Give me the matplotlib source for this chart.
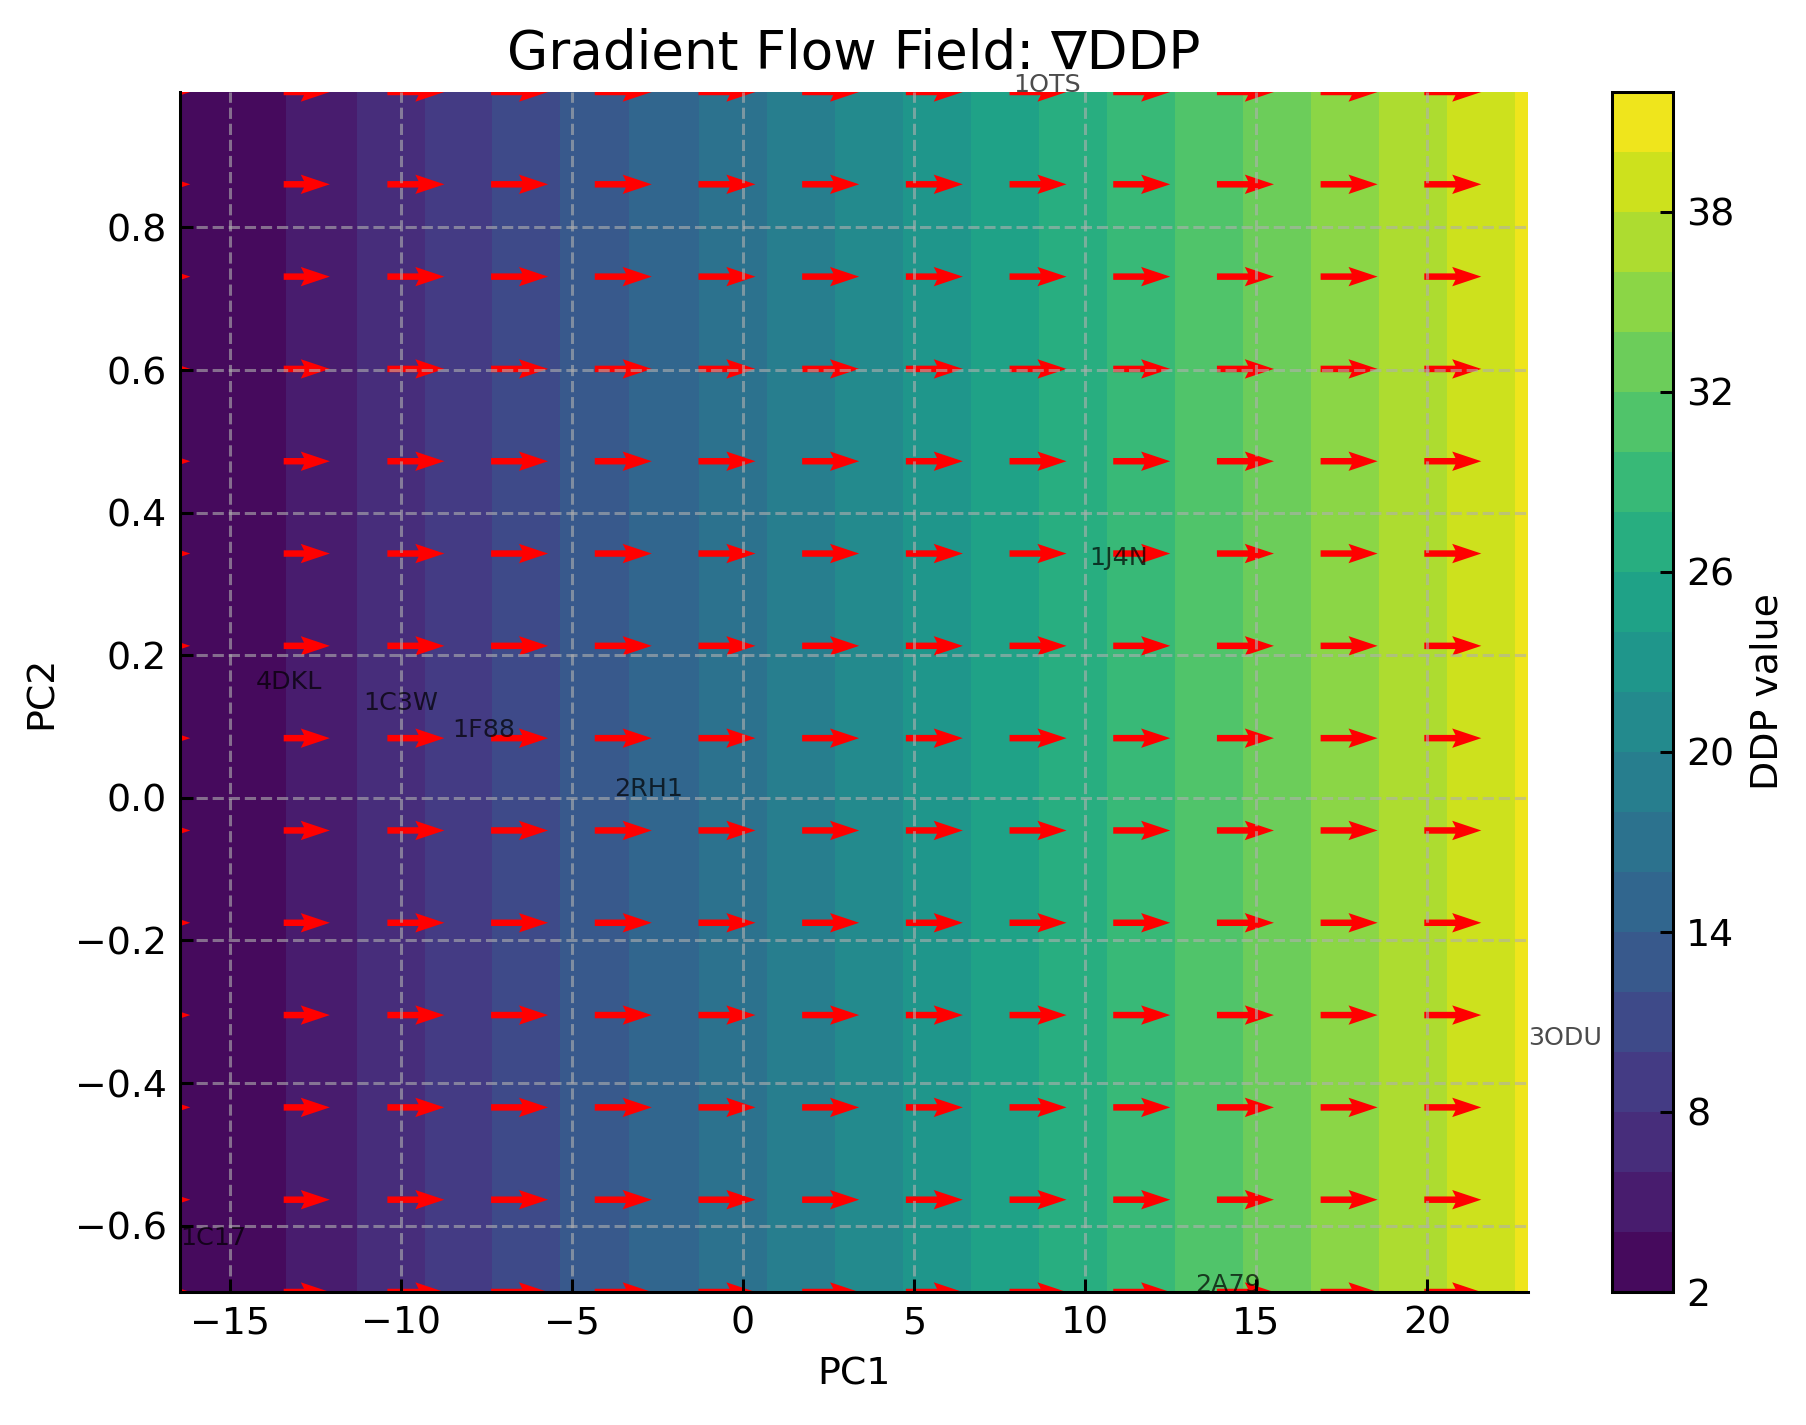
import matplotlib
matplotlib.use('Agg')
import matplotlib.pyplot as plt
import numpy as np

# structures placed in PC space (labels only)
structures = ['4DKL', '1C3W', '1F88', '2RH1', '1J4N', '1OTS', '3ODU', '2A79', '1C17']
pc1 = [-14.25, -11.09, -8.50, -3.76, 10.13, 7.91, 22.95, 13.23, -16.46]
pc2 = [0.153, 0.123, 0.086, 0.003, 0.327, 0.990, -0.346, -0.693, -0.627]

# DDP value along PC1 at the 14 grid columns (field does not vary with PC2)
ddp_profile = [2.2, 3.93, 6.86, 9.97, 13.03, 15.99, 19.04, 22.08,
               25.13, 28.18, 31.24, 34.28, 37.33, 40.38]
# x-component of the gradient arrows per grid column
grad_pc1 = [0.18, 0.81, 1.0, 1.0, 1.0, 1.0, 1.0, 1.0,
            1.0, 1.0, 1.0, 1.0, 1.0, 1.0]
n_rows = 14

ddp_levels = np.arange(2, 43, 2)
cbar_ticks = [2, 8, 14, 20, 26, 32, 38]

plt.rcParams['xtick.direction'] = 'in'
plt.rcParams['ytick.direction'] = 'in'

x_grid = np.linspace(min(pc1), max(pc1), len(ddp_profile))
y_grid = np.linspace(min(pc2), max(pc2), n_rows)
X, Y = np.meshgrid(x_grid, y_grid)
Z = np.tile(ddp_profile, (n_rows, 1))
U = np.tile(grad_pc1, (n_rows, 1))
V = np.zeros_like(U)

dpi = 273
fig = plt.figure(figsize=(1806 / dpi, 1425 / dpi), dpi=dpi)
ax = fig.add_axes([180 / 1806, 133 / 1425, 1348 / 1806, 1200 / 1425])
cax = fig.add_axes([1612 / 1806, 133 / 1425, 61 / 1806, 1200 / 1425])

cf = ax.contourf(X, Y, Z, levels=ddp_levels, cmap='viridis')
ax.quiver(X, Y, U, V, color='red', pivot='tail', scale_units='x', scale=0.6,
          width=0.0048, headwidth=3, headlength=4.5, headaxislength=4)

for name, x, y in zip(structures, pc1, pc2):
    ax.text(x, y, name, fontsize=6.7, color='black', alpha=0.7)

ax.set_xlim(min(pc1), max(pc1))
ax.set_ylim(min(pc2), max(pc2))
ax.set_title('Gradient Flow Field: \u2207DDP', fontsize=14)
ax.set_xlabel('PC1')
ax.set_ylabel('PC2')
ax.grid(True, linestyle='--', alpha=0.6)
ax.spines['top'].set_visible(False)
ax.spines['right'].set_visible(False)

cb = fig.colorbar(cf, cax=cax, ticks=cbar_ticks)
cb.set_label('DDP value')

fig.savefig('out.png', dpi=dpi)
